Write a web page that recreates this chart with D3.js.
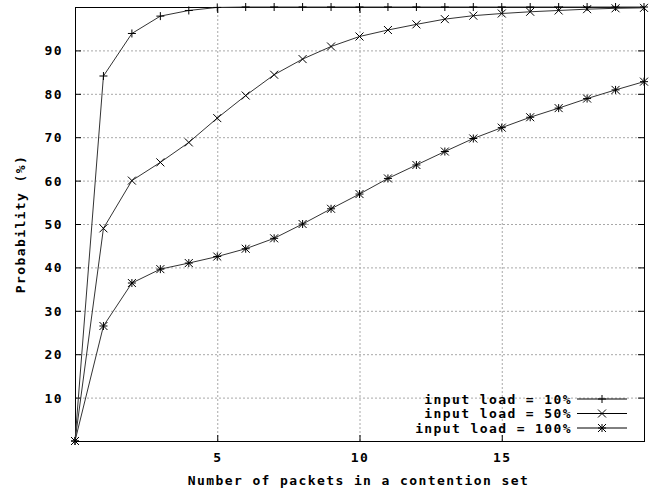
<!DOCTYPE html>
<html>
<head>
<meta charset="utf-8">
<script src="https://cdn.jsdelivr.net/npm/d3@7"></script>
<style>
  body { margin: 0; background: #fff; }
  text { font-family: "DejaVu Sans Mono", monospace; font-weight: bold; font-size: 13px; letter-spacing: 1.4px; fill: #000; }
</style>
</head>
<body>
<div id="chart"></div>
<script>
// Probability curves vs. size of a contention set, gnuplot look

// Data
let packets = d3.range(0, 21);
let load10 = [0, 84.1, 93.9, 97.9, 99.2, 99.9, 100, 100, 100, 100, 100, 100, 100, 100, 100, 100, 100, 100, 100, 100, 100];
let load50 = [0, 49.0, 60.0, 64.2, 68.8, 74.4, 79.6, 84.4, 88.0, 90.9, 93.2, 94.7, 96.0, 97.2, 98.0, 98.5, 98.9, 99.2, 99.5, 99.7, 99.8];
let load100 = [0, 26.5, 36.4, 39.6, 41.0, 42.5, 44.3, 46.7, 50.0, 53.5, 56.9, 60.5, 63.6, 66.7, 69.7, 72.2, 74.6, 76.7, 78.9, 80.9, 82.8];
let seriesNames = ["input load = 10%", "input load = 50%", "input load = 100%"];
let xTicks = [5, 10, 15];
let yTicks = [10, 20, 30, 40, 50, 60, 70, 80, 90];

// Chart size
let margin = { top: 7, right: 20, bottom: 53, left: 75 },
    width = 664 - margin.left - margin.right,
    height = 494 - margin.top - margin.bottom;

let x = d3.scaleLinear().domain([0, 20]).range([0, width]);
let y = d3.scaleLinear().domain([0, 100]).range([height, 0]);

let svg = d3.select("#chart").append("svg")
    .attr("width", 664)
    .attr("height", 494);

let g = svg.append("g")
    .attr("transform", `translate(${margin.left}, ${margin.top})`);

// Dotted grid
g.append("g").selectAll("line").data(yTicks).join("line")
    .attr("x1", 0).attr("x2", width)
    .attr("y1", d => y(d) + 0.5).attr("y2", d => y(d) + 0.5)
    .attr("stroke", "#a8a8a8").attr("stroke-dasharray", "2,2");
g.append("g").selectAll("line").data(xTicks).join("line")
    .attr("x1", d => x(d) + 0.5).attr("x2", d => x(d) + 0.5)
    .attr("y1", 0).attr("y2", height)
    .attr("stroke", "#a8a8a8").attr("stroke-dasharray", "2,2");

// Axes (ticks point inward, mirrored on the other side)
function styleAxis(sel) {
    sel.select(".domain").remove();
    sel.selectAll(".tick line").attr("stroke", "#000");
}
g.append("g")
    .call(d3.axisLeft(y).tickValues(yTicks).tickSize(-6).tickPadding(12).tickFormat(d3.format("d")))
    .call(styleAxis)
    .selectAll("text").style("font-size", "13px").attr("text-anchor", "end").attr("dy", "0.35em");
g.append("g").attr("transform", `translate(${width},0)`)
    .call(d3.axisRight(y).tickValues(yTicks).tickSize(-6).tickFormat(""))
    .call(styleAxis);
g.append("g").attr("transform", `translate(0,${height})`)
    .call(d3.axisBottom(x).tickValues(xTicks).tickSize(-6).tickPadding(16).tickFormat(d3.format("d")))
    .call(styleAxis)
    .selectAll("text").style("font-size", "13px").attr("dy", "0.35em");
g.append("g")
    .call(d3.axisTop(x).tickValues(xTicks).tickSize(-6).tickFormat(""))
    .call(styleAxis);

// Border
g.append("rect")
    .attr("x", 0.5).attr("y", 0.5)
    .attr("width", width).attr("height", height)
    .attr("fill", "none").attr("stroke", "#000");

// Marker shapes
let s = 4;
let markers = [
    `M${-s},0H${s}M0,${-s}V${s}`,
    `M${-s},${-s}L${s},${s}M${-s},${s}L${s},${-s}`,
    `M${-s},0H${s}M0,${-s}V${s}M${-s},${-s}L${s},${s}M${-s},${s}L${s},${-s}`
];

let allSeries = [load10, load50, load100];
let line = d3.line()
    .x((d, i) => x(packets[i]))
    .y(d => y(d));

allSeries.forEach(function (vals, k) {
    g.append("path")
        .datum(vals)
        .attr("fill", "none")
        .attr("stroke", "#333")
        .attr("stroke-width", 1)
        .attr("d", line);
    g.append("g").selectAll("path").data(vals).join("path")
        .attr("transform", (d, i) => `translate(${x(packets[i])},${y(d)})`)
        .attr("d", markers[k])
        .attr("stroke", "#000")
        .attr("fill", "none");
});

// Legend
let legend = g.append("g");
seriesNames.forEach(function (name, k) {
    let ly = 392 + k * 14.5;
    legend.append("text")
        .attr("x", 497).attr("y", ly)
        .attr("dy", "0.35em")
        .attr("text-anchor", "end")
        .text(name);
    legend.append("line")
        .attr("x1", 502).attr("x2", 552)
        .attr("y1", ly).attr("y2", ly)
        .attr("stroke", "#000");
    legend.append("path")
        .attr("transform", `translate(527,${ly})`)
        .attr("d", markers[k])
        .attr("stroke", "#000")
        .attr("fill", "none");
});

// Axis titles
svg.append("text")
    .attr("x", margin.left + width / 2 - 1)
    .attr("y", 485)
    .attr("text-anchor", "middle")
    .text("Number of packets in a contention set");

svg.append("text")
    .attr("transform", `translate(25, ${margin.top + height / 2}) rotate(-90)`)
    .attr("text-anchor", "middle")
    .text("Probability (%)");
</script>
</body>
</html>
